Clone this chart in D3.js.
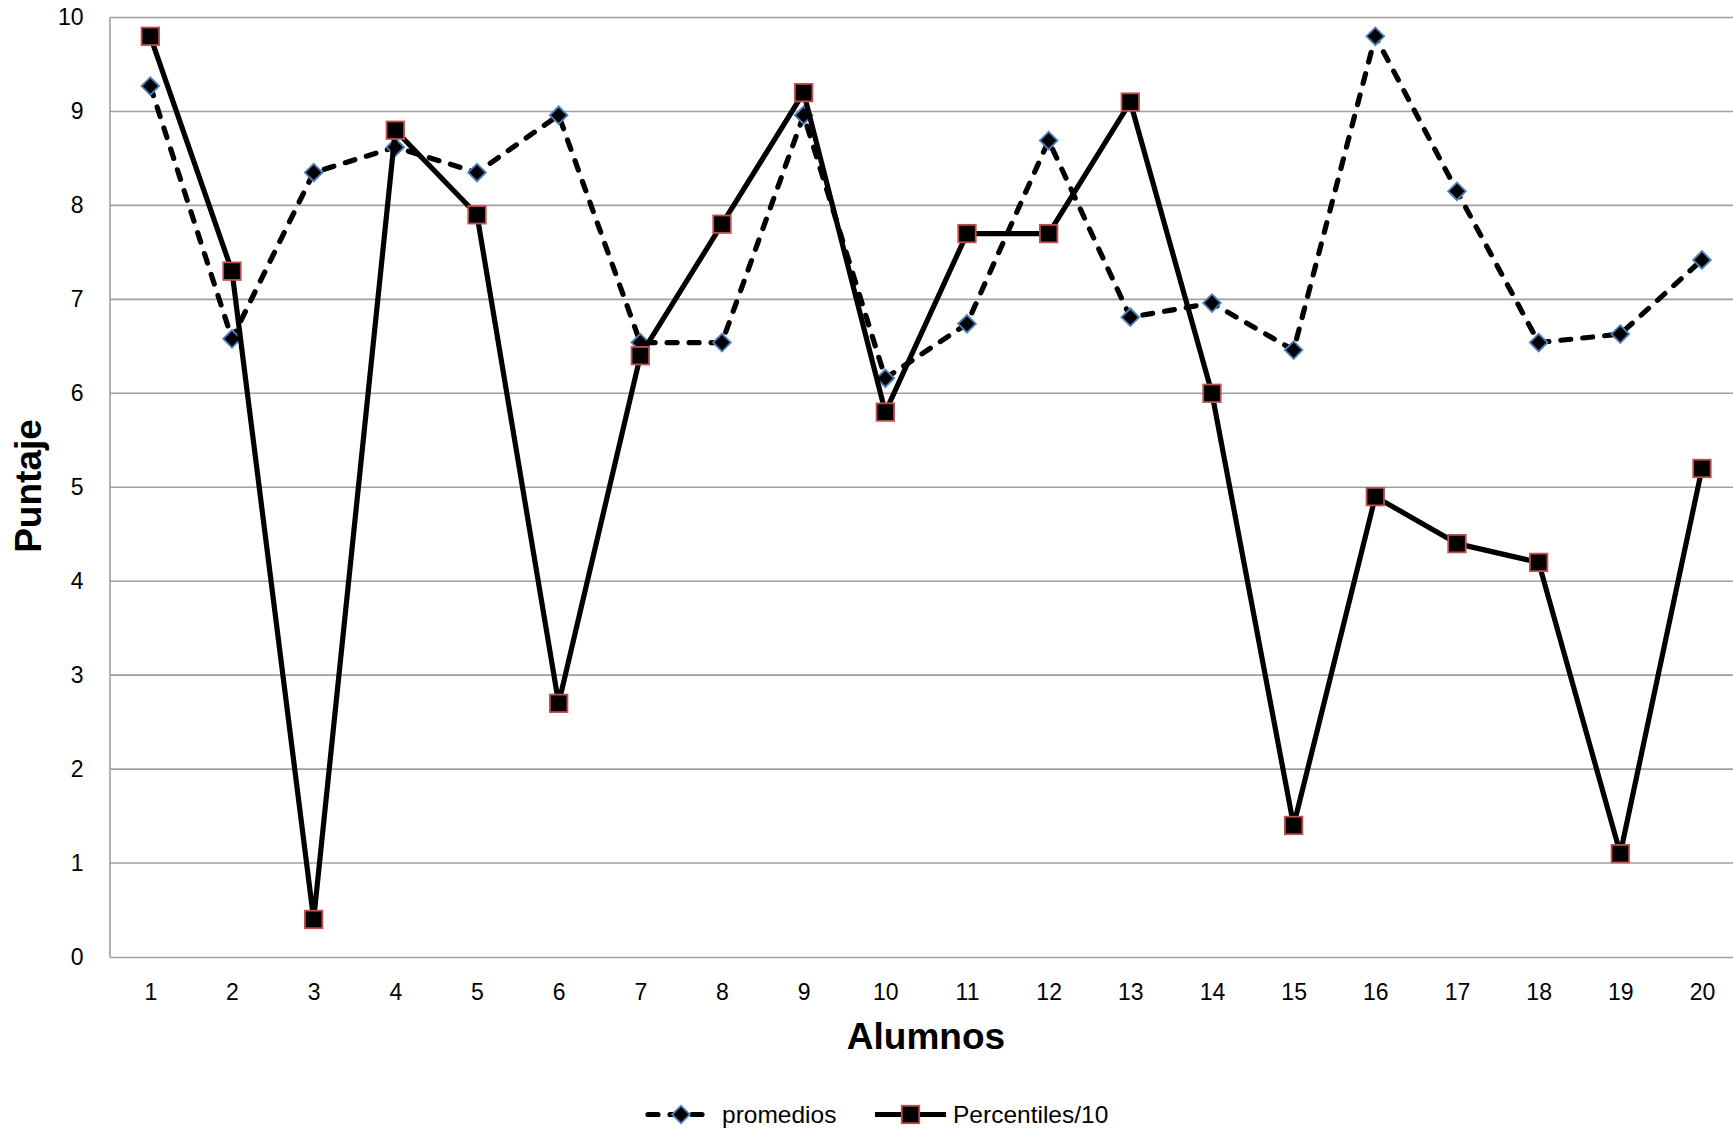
<!DOCTYPE html>
<html><head><meta charset="utf-8">
<script src="https://cdn.jsdelivr.net/npm/d3@7"></script>
<style>
html,body{margin:0;padding:0;background:#fff;overflow:hidden;}
svg{display:block;font-family:"Liberation Sans",Arial,sans-serif;}
</style></head>
<body>
<svg id="chart" width="1733" height="1131"></svg>
<script>
const alumnos = ["1","2","3","4","5","6","7","8","9","10","11","12","13","14","15","16","17","18","19","20"];
const promedios = [9.27,6.58,8.35,8.62,8.35,8.96,6.54,6.54,8.96,6.16,6.74,8.69,6.81,6.96,6.46,9.80,8.15,6.54,6.63,7.42];
const percentiles10 = [9.8,7.3,0.4,8.8,7.9,2.7,6.4,7.8,9.2,5.8,7.7,7.7,9.1,6.0,1.4,4.9,4.4,4.2,1.1,5.2];
const yTicks = [0,1,2,3,4,5,6,7,8,9,10];

const svg = d3.select("#chart");
const pLeft = 109.5, pRight = 1742.8, pTop = 17.5, pBottom = 957;
const x = d3.scalePoint().domain(alumnos).range([pLeft, pRight]).padding(0.5);
const y = d3.scaleLinear().domain([0,10]).range([pBottom, pTop]);

// gridlines
svg.append("g").selectAll("line").data(yTicks.filter(d=>d>0)).join("line")
  .attr("x1", pLeft).attr("x2", 1733)
  .attr("y1", d=>y(d)).attr("y2", d=>y(d))
  .attr("stroke", "#a0a0a0").attr("stroke-width", 1.6);

// y axis
const gy = svg.append("g").attr("transform", `translate(${pLeft},0)`)
  .call(d3.axisLeft(y).tickValues(yTicks).tickSize(0).tickPadding(26).tickFormat(d3.format("d")));
gy.select(".domain").attr("stroke", "#a0a0a0").attr("stroke-width", 1.6);
gy.selectAll("text").attr("font-size", 23).attr("fill", "#000").attr("font-family", "Liberation Sans, Arial, sans-serif");

// x axis
const gx = svg.append("g").attr("transform", `translate(0,${pBottom})`)
  .call(d3.axisBottom(x).tickSize(0).tickPadding(27));
gx.select(".domain").attr("stroke", "#a0a0a0").attr("stroke-width", 1.6);
gx.selectAll("text").attr("font-size", 23).attr("fill", "#000").attr("font-family", "Liberation Sans, Arial, sans-serif");

// axis titles
svg.append("text").attr("x", 926).attr("y", 1049).attr("text-anchor", "middle")
  .attr("font-size", 37).attr("font-weight", "bold").text("Alumnos");
svg.append("text").attr("transform", "translate(41,486) rotate(-90)").attr("text-anchor", "middle")
  .attr("font-size", 37).attr("font-weight", "bold").text("Puntaje");

const line = d3.line().x((d,i)=>x(alumnos[i])).y(d=>y(d));

// promedios series
svg.append("path").datum(promedios).attr("d", line).attr("fill", "none")
  .attr("stroke", "#000").attr("stroke-width", 5.2).attr("stroke-dasharray", "10,12")
  .attr("stroke-linecap", "round").attr("stroke-linejoin", "round");
const dSize = 12.5;
svg.append("g").selectAll("rect").data(promedios).join("rect")
  .attr("x", -dSize/2).attr("y", -dSize/2).attr("width", dSize).attr("height", dSize)
  .attr("transform", (d,i)=>`translate(${x(alumnos[i])},${y(d)}) rotate(45)`)
  .attr("fill", "#000").attr("stroke", "#4f81bd").attr("stroke-width", 1.8);

// percentiles series
svg.append("path").datum(percentiles10).attr("d", line).attr("fill", "none")
  .attr("stroke", "#000").attr("stroke-width", 5.2).attr("stroke-linejoin", "round");
const sSize = 17.5;
svg.append("g").selectAll("rect").data(percentiles10).join("rect")
  .attr("x", (d,i)=>x(alumnos[i]) - sSize/2).attr("y", d=>y(d) - sSize/2)
  .attr("width", sSize).attr("height", sSize)
  .attr("fill", "#000").attr("stroke", "#c0504d").attr("stroke-width", 1.8);

// legend
const ly = 1114.5;
const lg = svg.append("g");
lg.append("line").attr("x1", 648).attr("x2", 703).attr("y1", ly).attr("y2", ly)
  .attr("stroke", "#000").attr("stroke-width", 5.2).attr("stroke-dasharray", "10,12").attr("stroke-linecap", "round");
lg.append("rect").attr("x", -dSize/2).attr("y", -dSize/2).attr("width", dSize).attr("height", dSize)
  .attr("transform", `translate(681,${ly}) rotate(45)`)
  .attr("fill", "#000").attr("stroke", "#4f81bd").attr("stroke-width", 1.8);
lg.append("text").attr("x", 722).attr("y", ly + 8.5).attr("font-size", 24.5).text("promedios");
lg.append("line").attr("x1", 875).attr("x2", 946).attr("y1", ly).attr("y2", ly)
  .attr("stroke", "#000").attr("stroke-width", 5.2);
lg.append("rect").attr("x", 910.5 - sSize/2).attr("y", ly - sSize/2).attr("width", sSize).attr("height", sSize)
  .attr("fill", "#000").attr("stroke", "#c0504d").attr("stroke-width", 1.8);
lg.append("text").attr("x", 953).attr("y", ly + 8.5).attr("font-size", 24.5).text("Percentiles/10");
</script>
</body></html>
